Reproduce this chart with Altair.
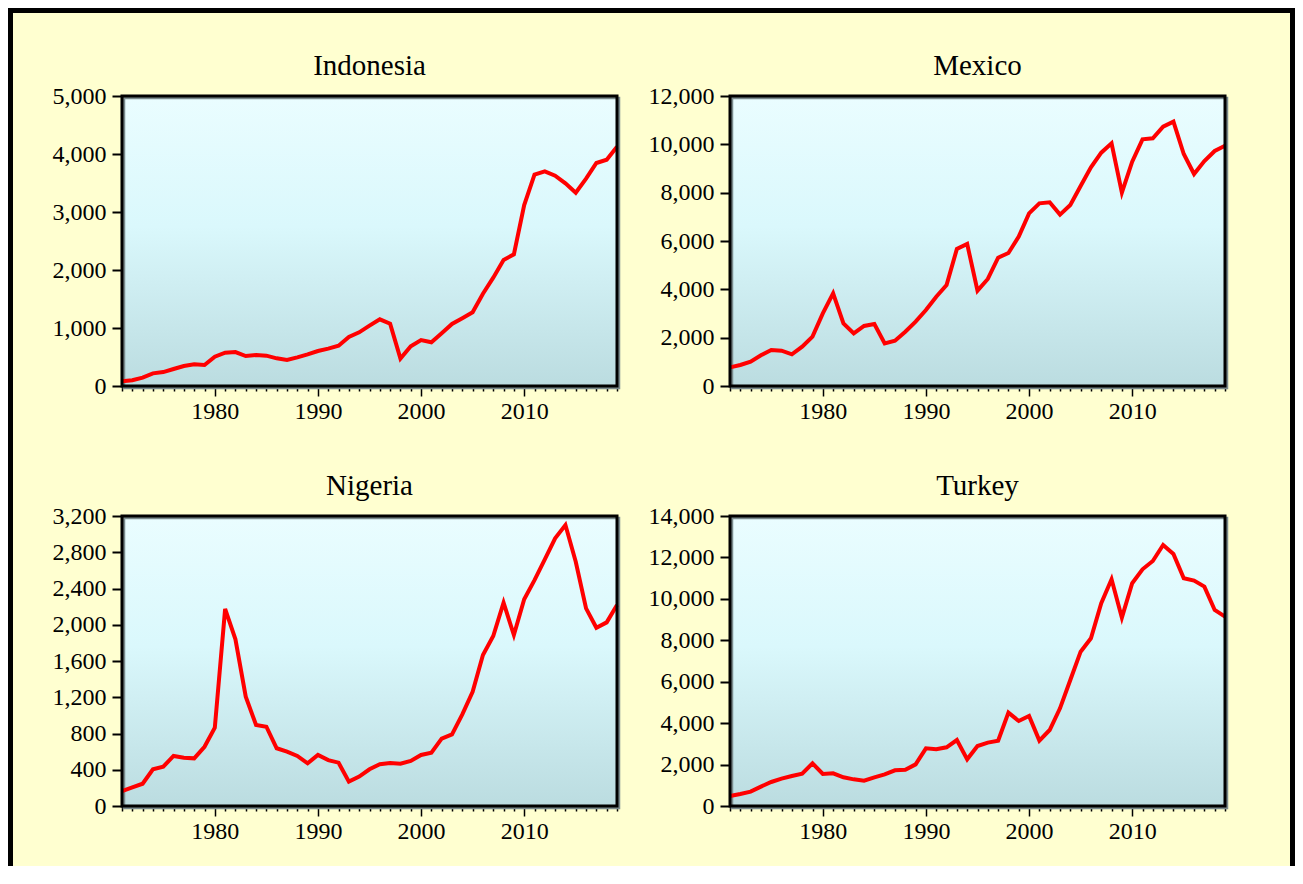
import altair as alt
import pandas as pd

years = list(range(1971, 2020))
countries = ["Indonesia", "Mexico", "Nigeria", "Turkey"]

indonesia = [80, 100, 143, 218, 240, 293, 345, 374, 362, 505,
             575, 586, 517, 534, 523, 477, 448, 494, 546, 603,
             644, 695, 845, 925, 1040, 1150, 1075, 472, 684, 793,
             753, 908, 1069, 1167, 1270, 1592, 1868, 2172, 2270, 3120,
             3643, 3701, 3626, 3494, 3333, 3574, 3845, 3902, 4126]
mexico = [772, 869, 1007, 1269, 1490, 1462, 1310, 1628, 2042, 3007,
          3835, 2593, 2180, 2483, 2566, 1766, 1876, 2248, 2662, 3145,
          3697, 4179, 5669, 5876, 3945, 4428, 5310, 5503, 6179, 7145,
          7559, 7600, 7090, 7490, 8276, 9048, 9655, 10041, 8000, 9283,
          10207, 10248, 10731, 10938, 9600, 8772, 9310, 9724, 9945]
nigeria = [165, 206, 246, 405, 434, 552, 533, 526, 654, 864,
           2174, 1839, 1206, 894, 875, 637, 600, 552, 471, 563,
           506, 478, 269, 324, 405, 460, 474, 467, 497, 563,
           589, 743, 791, 1011, 1261, 1666, 1876, 2243, 1887, 2281,
           2493, 2722, 2953, 3100, 2695, 2181, 1967, 2026, 2218]
turkey = [483, 579, 692, 934, 1159, 1319, 1448, 1561, 2060, 1545,
          1577, 1384, 1287, 1223, 1384, 1529, 1722, 1754, 2011, 2784,
          2736, 2833, 3186, 2253, 2897, 3058, 3155, 4506, 4104, 4345,
          3155, 3669, 4715, 6083, 7450, 8097, 9786, 10945, 9091, 10752,
          11428, 11829, 12600, 12166, 10993, 10880, 10590, 9462, 9139]

series = [indonesia, mexico, nigeria, turkey]
y_max = [5000, 12000, 3200, 14000]
y_step = [1000, 2000, 400, 2000]

W, H = 495, 290
FONT = "Liberation Serif"
BG = "#FFFFD0"

gradient = alt.LinearGradient(
    gradient="linear",
    stops=[alt.GradientStop(color="#EAFDFF", offset=0),
           alt.GradientStop(color="#DAF8FC", offset=0.45),
           alt.GradientStop(color="#BBDCE0", offset=1)],
    x1=0, x2=0, y1=0, y2=1,
)


def panel(name, vals, ymax, step, with_frame=False):
    one = pd.DataFrame({"k": [0]})
    df = pd.DataFrame({"year": years, "value": vals})
    back = alt.Chart(one).mark_rect(color=gradient).encode(
        x=alt.value(0), x2=alt.value(W), y=alt.value(0), y2=alt.value(H))
    shadow = alt.Chart(one).mark_rect(filled=False, stroke="#7A8A8C", strokeWidth=2.5).encode(
        x=alt.value(2), x2=alt.value(W + 2), y=alt.value(2), y2=alt.value(H + 2))
    line = alt.Chart(df).mark_line(color="#FF0000", strokeWidth=4).encode(
        x=alt.X("year:Q",
                scale=alt.Scale(domain=[1971, 2019], nice=False, zero=False),
                axis=alt.Axis(title=None, values=years,
                              labelExpr="datum.value % 10 == 0 ? datum.value : ''",
                              tickSize={"condition": {"test": "datum.value % 10 == 0", "value": 10}, "value": 5},
                              labelPadding=3, labelFlush=False, labelOverlap=False,
                              tickWidth=1.5)),
        y=alt.Y("value:Q",
                scale=alt.Scale(domain=[0, ymax], nice=False, zero=True),
                axis=alt.Axis(title=None, values=list(range(0, ymax + 1, step)),
                              format=",d", tickSize=10, tickWidth=2, labelPadding=6,
                              labelFlush=False, labelOverlap=False)),
    )
    border = alt.Chart(one).mark_rect(filled=False, stroke="black", strokeWidth=3).encode(
        x=alt.value(0), x2=alt.value(W), y=alt.value(0), y2=alt.value(H))
    title = alt.Chart(pd.DataFrame({"country": [name]})).mark_text(
        font=FONT, fontSize=29, baseline="alphabetic", align="center", color="black"
    ).encode(text="country:N", x=alt.value(W / 2), y=alt.value(-21))
    layers = [back, shadow, line, border, title]
    if with_frame:
        bar = alt.Chart(one).mark_rect(color="black", strokeWidth=0)
        layers += [
            bar.encode(x=alt.value(-114), x2=alt.value(1173), y=alt.value(-88), y2=alt.value(-83)),
            bar.encode(x=alt.value(-114), x2=alt.value(-109), y=alt.value(-88), y2=alt.value(770)),
            bar.encode(x=alt.value(1168), x2=alt.value(1173), y=alt.value(-88), y2=alt.value(770)),
        ]
    return alt.layer(*layers).properties(width=W, height=H)


panels = [panel(countries[i], series[i], y_max[i], y_step[i], with_frame=(i == 0))
          for i in range(4)]

chart = alt.concat(
    *panels, columns=2, spacing={"row": 130, "column": 113}, bounds="flush"
).properties(
    padding=0, background=BG
).configure_view(
    stroke="transparent", strokeWidth=0
).configure_axis(
    labelFont=FONT, labelFontSize=24, labelColor="black",
    tickColor="black", domain=False, grid=False, zindex=1
)

chart.save("out.html", embed_options={"renderer": "svg", "actions": False})
